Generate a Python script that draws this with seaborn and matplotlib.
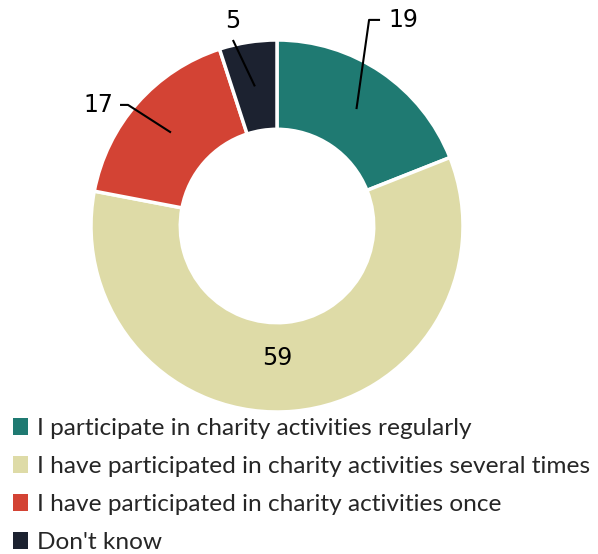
import numpy as np
import matplotlib
matplotlib.use("Agg")
import matplotlib.pyplot as plt
from matplotlib.patches import Patch
import seaborn as sns

categories = [
    "I participate in charity activities regularly",
    "I have participated in charity activities several times",
    "I have participated in charity activities once",
    "Don't know",
]
values = [19, 59, 17, 5]
colors = ["#1F7A72", "#DEDBA7", "#D34334", "#1C2230"]

sns.set_theme(style="white")
plt.rcParams["font.family"] = ["Lato", "DejaVu Sans"]

W, H = 598, 554
fig = plt.figure(figsize=(W / 100, H / 100), dpi=100)
cx, cy, R = 277, 226, 186
ax = fig.add_axes([(cx - R) / W, (H - cy - R) / H, 2 * R / W, 2 * R / H])

wedges, _ = ax.pie(
    values, colors=colors, startangle=90, counterclock=False, radius=1.0,
    wedgeprops=dict(width=0.48, edgecolor="white", linewidth=2.5),
)
ax.set_xlim(-1, 1)
ax.set_ylim(-1, 1)
ax.set_aspect("equal")
ax.axis("off")

num_font = dict(family=["DejaVu Sans"], fontsize=17, color="black")


def anchor(w, r=0.76):
    a = np.deg2rad((w.theta1 + w.theta2) / 2)
    return r * np.cos(a), r * np.sin(a)


line_kw = dict(color="black", lw=1.5, clip_on=False, solid_capstyle="butt")

# 19 : regular participants
x0, y0 = anchor(wedges[0])
ax.plot([x0, 0.495, 0.554], [y0, 1.108, 1.108], **line_kw)
ax.text(0.597, 1.108, str(values[0]), ha="left", va="center", **num_font)

# 5 : don't know
x0, y0 = anchor(wedges[3])
ax.plot([x0, -0.237], [y0, 1.0], **line_kw)
ax.text(-0.237, 1.1, str(values[3]), ha="center", va="center", **num_font)

# 17 : once
x0, y0 = anchor(wedges[2])
ax.plot([x0, -0.801, -0.844], [y0, 0.651, 0.651], **line_kw)
ax.text(-0.88, 0.651, str(values[2]), ha="right", va="center", **num_font)

# 59 : several times, inside the ring
ax.text(0.0, -0.71, str(values[1]), ha="center", va="center", **num_font)

handles = [Patch(facecolor=c, edgecolor="none") for c in colors]
fig.legend(
    handles, categories, loc="upper left", bbox_to_anchor=(6 / W, 1 - 411 / H),
    frameon=False, fontsize=17.6, handlelength=0.6, handleheight=0.7,
    handletextpad=0.35, labelspacing=0.69, borderaxespad=0, borderpad=0.3,
)

fig.savefig("out.png", dpi=100)
